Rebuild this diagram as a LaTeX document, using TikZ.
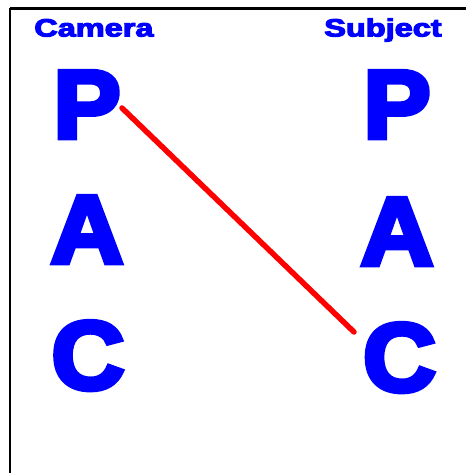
\documentclass[tikz,border=0pt]{standalone}
\usepackage{fontspec}
\newfontfamily\heavyfont[FakeBold=5]{Liberation Sans Bold}
\newfontfamily\labelfont[FakeBold=4]{Liberation Sans Bold}
\definecolor{pblue}{RGB}{0,0,255}
\definecolor{pred}{RGB}{255,0,0}
\tikzset{
  x=1pt,y=-1pt,
  bigletter/.style={inner sep=0pt,anchor=base,text=pblue,font=\heavyfont\fontsize{97}{97}\selectfont,xscale=1.04},
  heading/.style={inner sep=0pt,anchor=base west,text=pblue,font=\labelfont\fontsize{25}{25}\selectfont,xscale=1.3},
  frameline/.style={line width=2.6pt,black},
  link/.style={line width=5.5pt,pred,line cap=round}
}
\begin{document}
\begin{tikzpicture}
\useasboundingbox (0,0) rectangle (466,473);
\fill[white] (0,0) rectangle (466,473);
\draw[frameline] (10,8.5) -- (466,8.5);
\draw[frameline] (10,8.5) -- (10,473);
\node[heading] (camera) at (34,36.5) {Camera};
\node[heading] (subject) at (324,36.5) {Subject};
\node[bigletter] (cP) at (87,138) {P};
\node[bigletter] (cA) at (87,263) {A};
\node[bigletter] (cC) at (88,389) {C};
\node[bigletter] (sP) at (397,138) {P};
\node[bigletter] (sA) at (397,265) {A};
\node[bigletter] (sC) at (399.5,391) {C};
\coordinate (lineStart) at (122,108);
\coordinate (lineEnd) at (354,332);
\draw[link] (lineStart) -- (lineEnd);
\end{tikzpicture}
\end{document}
